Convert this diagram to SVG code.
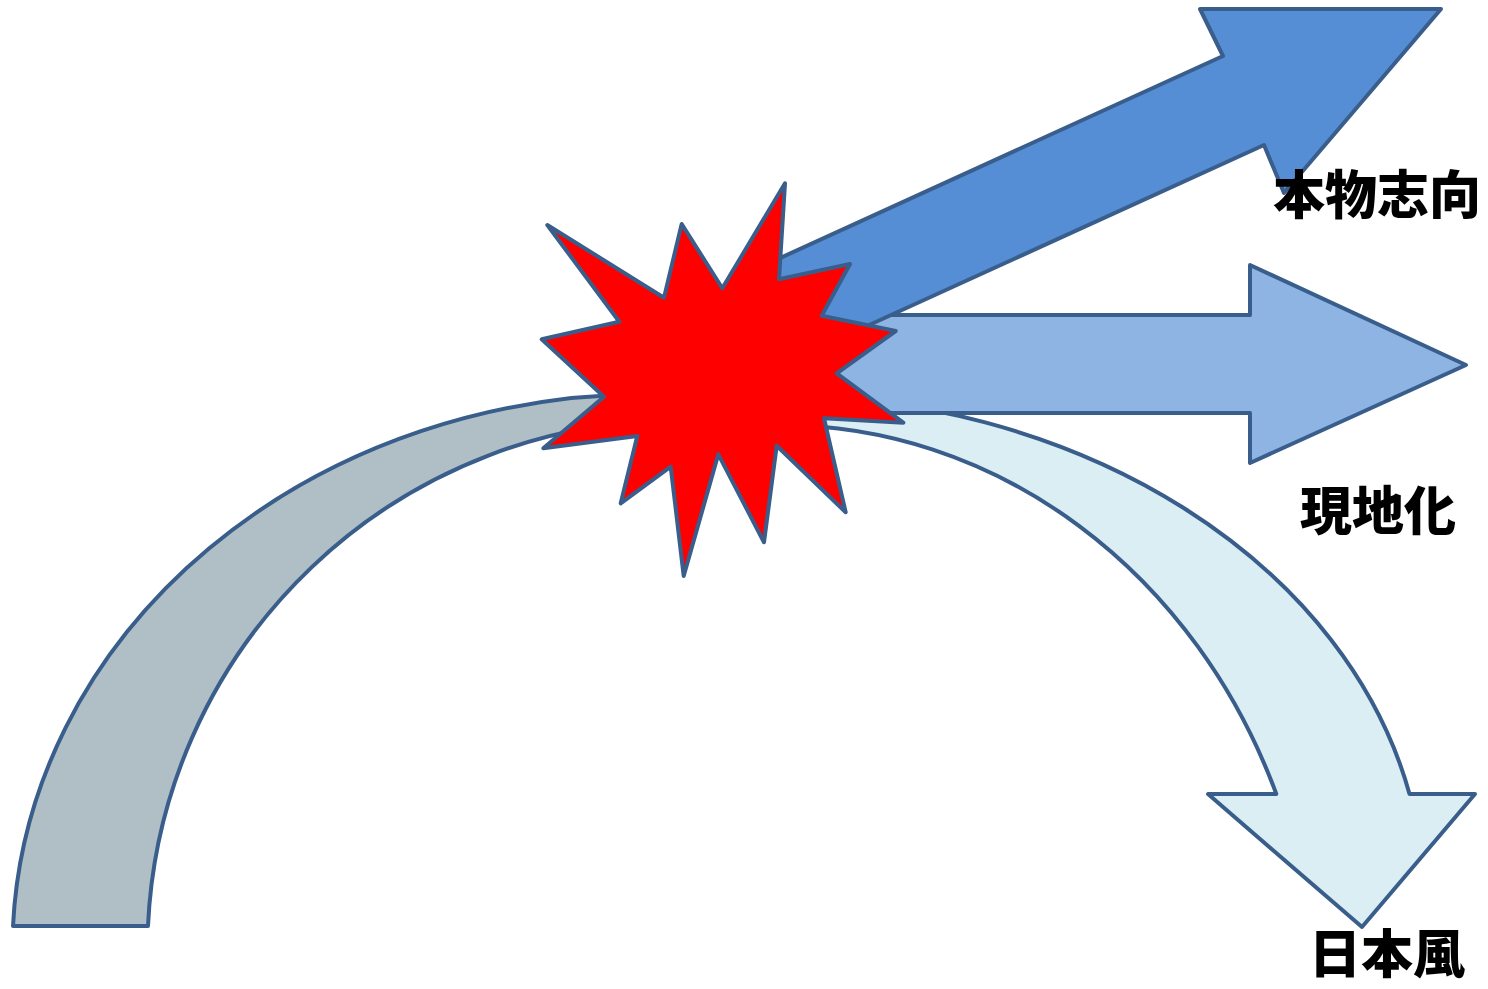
<svg xmlns="http://www.w3.org/2000/svg" width="1488" height="989" viewBox="0 0 1488 989">
<style>
.shape{stroke:#3A5E8C;stroke-width:4;stroke-linejoin:round}
.lbl{font-family:"Noto Sans CJK JP","Noto Sans CJK SC",sans-serif;font-weight:900;font-size:52px;fill:#000;text-anchor:middle;dominant-baseline:central}
</style>
<rect width="1488" height="989" fill="#fff"/>
<g id="connectors">
<path id="arc-in" class="shape" fill="#B0BFC5" d="M13,926 A638,556 0 0 1 650,394 L680,420 A532.5,530 0 0 0 148,926 Z"/>
<path id="arrow-nihon" class="shape" fill="#DBEEF4" d="M775,395 A650,505 0 0 1 1409.5,794 L1475,794 L1362,927 L1208,794 L1276.3,794 A536,593 0 0 0 780,425 Z"/>
<path id="arrow-genchi" class="shape" fill="#8EB4E3" d="M800,315 L1250,315 L1250,265 L1466,365 L1250,463 L1250,413 L800,413 Z"/>
<path id="arrow-honmono" class="shape" fill="#558ED5" d="M740.7,276 L1223,56 L1200,9 L1441,9 L1284,193 L1264,145 L781.4,365 Z"/>
</g>
<g id="burst">
<polygon class="shape" fill="#FF0000" points="547.3,225 664,297.7 681.7,224 722.3,288.3 785,183.3 779,279.3 850,264 821.7,315.7 895.7,331 836.7,373.3 903.3,422.7 824,418.3 845.7,512.3 776.7,445.7 764,542.3 718.3,454.3 683.7,576 670.7,466.7 620.7,503.3 637.3,436 543.3,448.3 604,396.7 541.7,339.3 619.3,321.7"/>
</g>
<g id="label-honmono"><text class="lbl" x="1377" y="191">本物志向</text></g>
<g id="label-genchi"><text class="lbl" x="1378" y="507">現地化</text></g>
<g id="label-nihon"><text class="lbl" x="1387" y="950">日本風</text></g>
</svg>
